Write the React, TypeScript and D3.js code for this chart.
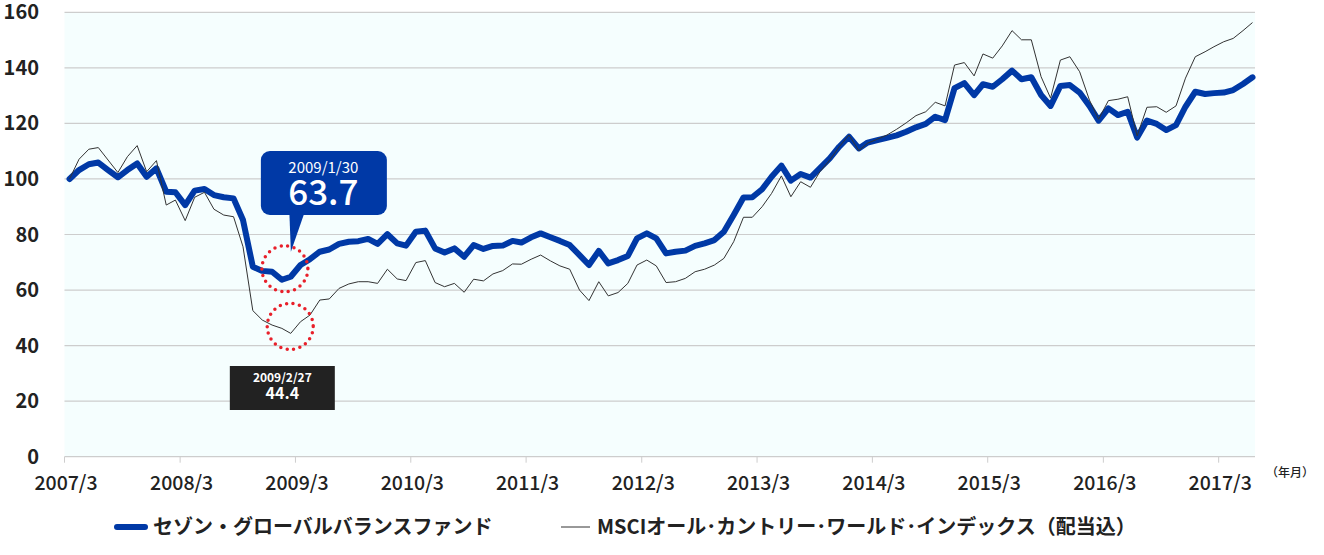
import React from 'react';
import * as d3 from 'd3';

// Monthly (month-end) values, 2007/3 .. 2017/6
const fundValues = [
  100, 103.2, 105.3, 105.9, 103.2, 100.6, 103.2, 105.6, 100.8, 103.8,
  95.4, 95.2, 90.6, 95.8, 96.4, 94.2, 93.4, 93.0, 85.2, 68.4,
  66.9, 66.6, 63.7, 64.8, 69.0, 71.1, 73.8, 74.6, 76.6, 77.4,
  77.6, 78.4, 76.6, 80.1, 76.8, 76.0, 81.0, 81.4, 75.0, 73.5,
  75.0, 72.0, 76.2, 74.8, 75.9, 76.0, 77.7, 77.1, 79.0, 80.4,
  79.0, 77.7, 76.2, 72.6, 69.0, 74.1, 69.6, 70.8, 72.3, 78.6,
  80.4, 78.6, 73.2, 73.8, 74.2, 75.9, 76.8, 78.0, 81.0, 87.0,
  93.3, 93.4, 96.3, 100.8, 104.8, 99.4, 101.8, 100.5, 103.9, 107.4,
  111.6, 115.2, 111.0, 113.1, 114.0, 114.8, 115.7, 117.0, 118.6, 119.8,
  122.4, 121.2, 132.7, 134.5, 130.2, 134.1, 133.2, 135.9, 139.0, 135.9,
  136.6, 130.2, 126.3, 133.5, 133.8, 131.1, 126.3, 121.0, 125.4, 123.0,
  124.2, 114.9, 121.0, 119.8, 117.6, 119.4, 126.0, 131.4, 130.6, 130.9,
  131.1, 132.0, 134.2, 136.6,
];

const msciValues = [
  100, 107.1, 110.7, 111.3, 106.8, 102.3, 108.0, 112.0, 102.6, 106.6,
  90.6, 92.4, 85.0, 93.4, 95.2, 89.1, 87.0, 86.4, 75.6, 52.6,
  49.2, 47.4, 46.2, 44.4, 48.6, 51.0, 56.4, 56.8, 60.6, 62.2,
  63.0, 63.0, 62.4, 67.5, 64.0, 63.4, 69.9, 70.6, 62.7, 61.2,
  62.4, 59.2, 63.9, 63.3, 65.8, 67.0, 69.4, 69.3, 71.1, 72.6,
  70.5, 68.7, 67.5, 60.0, 56.2, 63.0, 57.9, 59.1, 62.4, 69.0,
  70.8, 68.7, 62.7, 63.0, 64.2, 66.6, 67.5, 69.0, 71.4, 77.4,
  86.2, 86.2, 90.0, 94.8, 101.1, 93.6, 99.0, 97.0, 102.6, 106.8,
  111.6, 115.8, 110.2, 112.9, 114.3, 115.8, 117.9, 120.2, 122.8, 124.2,
  127.6, 126.3, 141.0, 141.9, 137.1, 145.0, 143.5, 147.9, 153.4, 150.1,
  150.1, 136.8, 129.1, 142.8, 144.0, 138.6, 128.4, 121.5, 128.2, 128.7,
  129.6, 115.5, 125.8, 126.0, 124.0, 126.3, 136.3, 144.0, 145.8, 147.6,
  149.4, 150.6, 153.4, 156.3,
];

const yTicks = [0, 20, 40, 60, 80, 100, 120, 140, 160];
const tickYears = [2007, 2008, 2009, 2010, 2011, 2012, 2013, 2014, 2015, 2016, 2017];
const fundLabel = 'セゾン・グローバルバランスファンド';
const msciLabel = 'MSCIオール･カントリー･ワールド･インデックス（配当込）';
const fundCalloutDate = '2009/1/30';
const msciCalloutDate = '2009/2/27';
const fundMinIndex = 22;
const msciMinIndex = 23;
const unitLabel = '（年月）';

const FONT = '"Noto Sans CJK JP", "Noto Sans", sans-serif';
const BLUE = '#0039a6';

export default function App() {
  const W = 1324;
  const H = 555;
  const left = 64.5;
  const right = 1255;
  const top = 12.3;
  const bottom = 456.7;

  const dates = fundValues.map((_, k) => new Date(Date.UTC(2007, 3 + k, 0)));
  const x = d3
    .scaleUtc()
    .domain([new Date(Date.UTC(2007, 2, 15)), new Date(Date.UTC(2017, 6, 8))])
    .range([left, right]);
  const y = d3.scaleLinear().domain([0, 160]).range([bottom, top]);

  const lineGen = d3
    .line<number>()
    .x((_, i) => x(dates[i]))
    .y((d) => y(d));

  const fp = { x: x(dates[fundMinIndex]), y: y(fundValues[fundMinIndex]) };
  const mp = { x: x(dates[msciMinIndex]), y: y(msciValues[msciMinIndex]) };

  const tipX = fp.x + 9;
  const tipY = fp.y - 28;
  const boxL = tipX - 30;
  const boxT = 151;
  const boxW = 126;
  const boxH = 64;
  const boxCx = boxL + boxW / 2 - 0.5;

  const lblCx = mp.x - 8.4;

  return (
    <svg
      width={W}
      height={H}
      style={{ position: 'absolute', left: 0, top: 0, background: '#fff' }}
      fontFamily={FONT}
    >
      <rect x={left} y={top} width={right - left} height={bottom - top} fill="#f5fefe" />
      {yTicks.map((t) => (
        <g key={t}>
          <line x1={left} x2={right} y1={y(t)} y2={y(t)} stroke="#cdcdcd" strokeWidth={1.2} />
          <text
            x={39}
            y={y(t) + 7}
            textAnchor="end"
            fontSize={20}
            fontWeight={700}
            fill="#222"
          >
            {t}
          </text>
        </g>
      ))}
      {tickYears.map((yr) => {
        const tx = x(new Date(Date.UTC(yr, 2, 15)));
        return (
          <g key={yr}>
            <line x1={tx} x2={tx} y1={bottom} y2={bottom + 6} stroke="#cdcdcd" strokeWidth={1} />
            <text x={tx + 1.5} y={490} textAnchor="middle" fontSize={19.5} fontWeight={500} fill="#222">
              {`${yr}/3`}
            </text>
          </g>
        );
      })}
      <text x={1290} y={477} textAnchor="middle" fontSize={12} fontWeight={500} fill="#222">
        {unitLabel}
      </text>

      <path
        d={lineGen(fundValues) || ''}
        fill="none"
        stroke={BLUE}
        strokeWidth={6}
        strokeLinejoin="round"
        strokeLinecap="round"
      />
      <path
        d={lineGen(msciValues) || ''}
        fill="none"
        stroke="#333"
        strokeWidth={1}
        strokeLinejoin="miter"
      />

      {/* dotted circles */}
      <circle
        cx={fp.x + 3}
        cy={fp.y - 11}
        r={23}
        fill="none"
        stroke="#e8202a"
        strokeWidth={3.5}
        strokeDasharray="0 6.5"
        strokeLinecap="round"
      />
      <circle
        cx={mp.x - 0.5}
        cy={mp.y - 7}
        r={23}
        fill="none"
        stroke="#e8202a"
        strokeWidth={3.5}
        strokeDasharray="0 6.5"
        strokeLinecap="round"
      />

      {/* blue callout */}
      <rect x={boxL} y={boxT} width={boxW} height={boxH} rx={9} fill={BLUE} />
      <path
        d={`M${tipX - 1.5},${boxT + boxH - 2} L${tipX + 13.5},${boxT + boxH - 2} L${tipX},${tipY} Z`}
        fill={BLUE}
      />
      <text x={boxCx} y={172.5} textAnchor="middle" fontSize={15} fontWeight={400} fill="#fff">
        {fundCalloutDate}
      </text>
      <text x={boxCx} y={204.5} textAnchor="middle" fontSize={35} fontWeight={500} fill="#fff">
        {fundValues[fundMinIndex].toFixed(1)}
      </text>

      {/* black label */}
      <rect x={lblCx - 52.5} y={366} width={105} height={44} fill="#222" />
      <text x={lblCx} y={381.7} textAnchor="middle" fontSize={12} fontWeight={700} fill="#fff">
        {msciCalloutDate}
      </text>
      <text x={lblCx} y={398.5} textAnchor="middle" fontSize={16} fontWeight={700} fill="#fff">
        {msciValues[msciMinIndex].toFixed(1)}
      </text>

      {/* legend */}
      <line x1={117} x2={145} y1={527} y2={527} stroke={BLUE} strokeWidth={6} strokeLinecap="round" />
      <text x={153} y={534} fontSize={20} fontWeight={700} fill="#222">
        {fundLabel}
      </text>
      <line x1={561} x2={590} y1={527} y2={527} stroke="#333" strokeWidth={1} />
      <text x={597} y={534} fontSize={20} fontWeight={700} fill="#222">
        {msciLabel}
      </text>
    </svg>
  );
}
